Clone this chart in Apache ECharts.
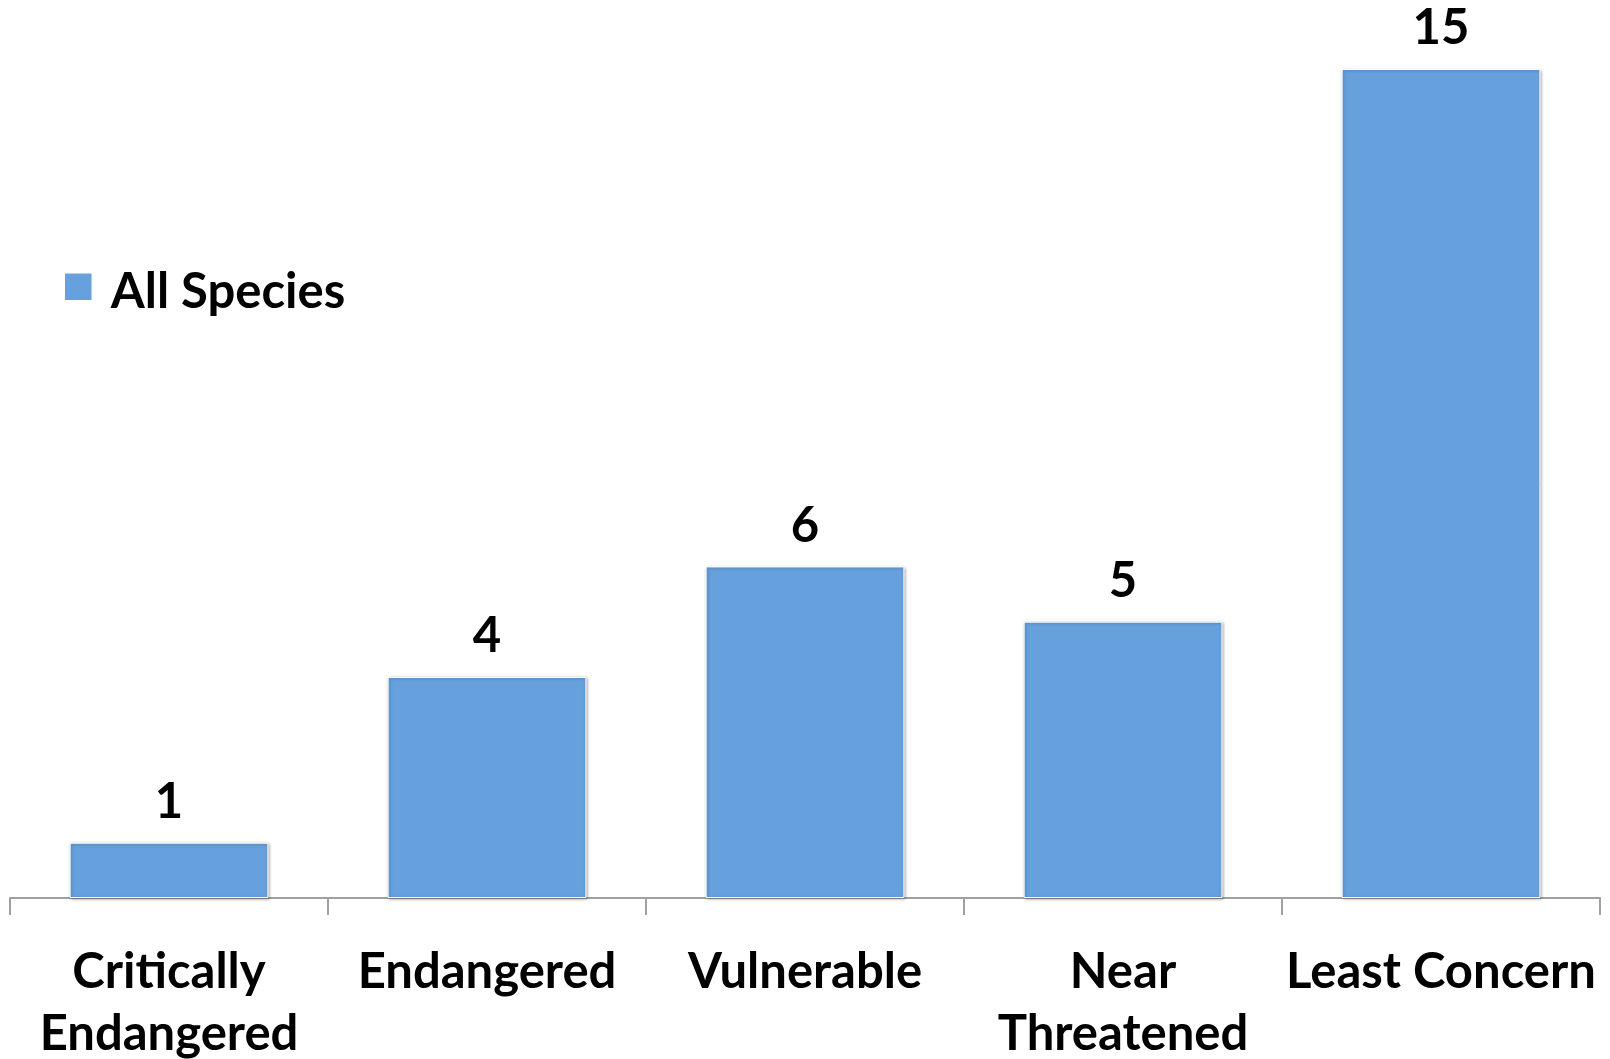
<!DOCTYPE html>
<html>
<head>
<meta charset="utf-8">
<script src="https://cdn.jsdelivr.net/npm/echarts@6/dist/echarts.min.js"></script>
<style>
html, body { margin: 0; padding: 0; background: #fff; }
#panel { width: 1610px; height: 1059px; }
</style>
</head>
<body>
<div id="panel"></div>
<script>
var categories = ['Critically\nEndangered', 'Endangered', 'Vulnerable', 'Near\nThreatened', 'Least Concern'];
var speciesCounts = [1, 4, 6, 5, 15];
var seriesName = 'All Species';

var myChart = echarts.init(document.getElementById('panel'));
myChart.setOption({
    backgroundColor: '#ffffff',
    animation: false,
    textStyle: { fontFamily: 'Lato' },
    legend: {
        left: 58,
        top: 263,
        // square sits a little above the text centre, as in the original
        icon: 'path://M0,0H10V10H0Z M0,14H0.01V14.01H0Z',
        itemWidth: 29,
        itemHeight: 40,
        itemGap: 10,
        data: [seriesName],
        textStyle: { fontSize: 49, fontWeight: 'bold', color: '#000', padding: [0, 0, 0, 13] }
    },
    grid: { left: 10, right: 10, top: 69, bottom: 161, outerBoundsMode: 'none' },
    xAxis: {
        type: 'category',
        data: categories,
        axisLine: { lineStyle: { color: '#a0a0a0', width: 2 } },
        axisTick: { show: true, length: 17, lineStyle: { color: '#a0a0a0', width: 2 } },
        axisLabel: {
            interval: 0,
            margin: 43,
            fontSize: 49,
            fontWeight: 'bold',
            color: '#000',
            lineHeight: 62
        }
    },
    yAxis: {
        type: 'value',
        min: 0,
        max: 15,
        show: false,
        splitLine: { show: false }
    },
    series: [{
        name: seriesName,
        type: 'bar',
        data: speciesCounts,
        barWidth: '62.5%',
        itemStyle: {
            color: '#66a1dd',
            borderColor: '#ffffff',
            borderWidth: 1,
            shadowColor: 'rgba(0,0,0,0.3)',
            shadowBlur: 3,
            shadowOffsetX: 1,
            shadowOffsetY: 1
        },
        label: {
            show: true,
            position: 'top',
            distance: 16,
            fontSize: 49,
            fontWeight: 'bold',
            color: '#000'
        }
    }]
});
</script>
</body>
</html>
